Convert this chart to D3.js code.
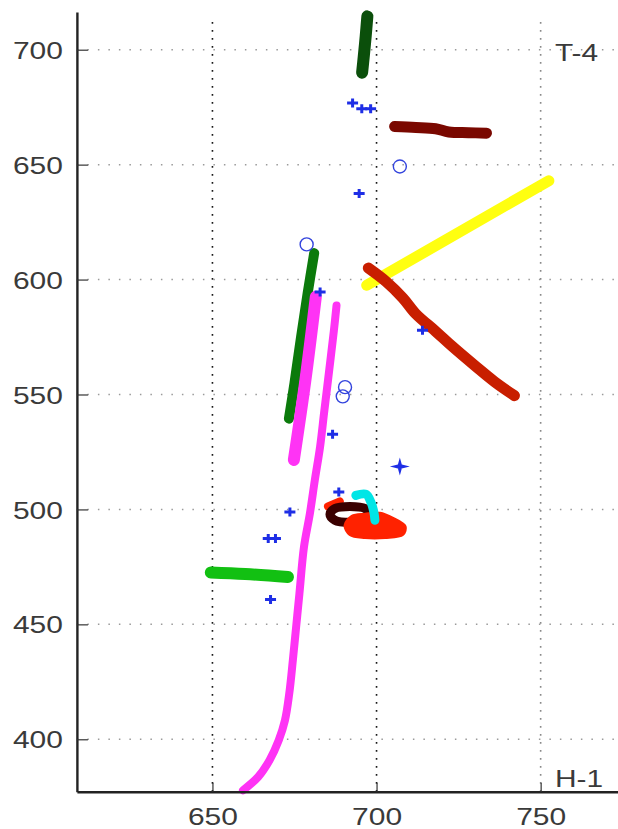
<!DOCTYPE html>
<html>
<head>
<meta charset="utf-8">
<script src="https://cdn.jsdelivr.net/npm/d3@7"></script>
<style>
  html, body { margin: 0; padding: 0; background: #fff; overflow: hidden; }
  text { font-family: "Liberation Sans", Arial, sans-serif; }
</style>
</head>
<body>
<div id="chart"></div>
<script>
// tick values
var xTicks = [650, 700, 750];
var yTicks = [400, 450, 500, 550, 600, 650, 700];
var cornerLabels = ["T-4", "H-1"];

// tracks, [x, y] pairs
var darkGreenTrack = [[697.2, 714.5], [696.7, 706], [696.1, 697], [695.6, 690]];
var maroonTrack = [[705.5, 666.6], [712, 666.2], [718, 665.6], [722, 664.2], [728, 663.9], [733.5, 663.7]];
var greenTrack = [[681, 611.5], [679, 594], [677, 575], [675, 555], [673.3, 539.5]];
var magentaShortTrack = [[681.5, 592.5], [678.3, 556], [674.8, 521.5]];
var lightGreenTrack = [[649.5, 472.6], [660, 471.9], [673, 470.6]];
var magentaLongTrack = [[687.8, 588.7], [687, 577.8], [685.2, 556.1], [684, 541.8], [682.8, 527.3],
  [681.2, 512.8], [679.7, 498.3], [677.9, 483.8], [676.5, 463.4], [675.5, 448.9], [674.5, 434.4],
  [673.4, 419.9], [672.1, 408.3], [670.2, 399.6], [667.4, 390.9], [663.9, 383.6], [659.3, 377.8]];
var redTrack = [[697.5, 605], [703, 599], [708, 592], [712, 585], [718, 577.5], [723, 571],
  [730, 562.5], [736, 555.5], [742, 549.5]];
var yellowTrack = [[697, 597.5], [752.5, 643]];

// small cluster near (695, 497)
var redSpur = [[685.2, 501.3], [688.8, 503.5]];
var brownLoop = [[685.8, 497.9], [687.3, 500.4], [691.9, 501.3], [696.5, 500.4], [698, 497.9],
  [696.5, 495.3], [691.9, 494.4], [687.3, 495.3]];
var redBlob = [[690.4, 493.1], [692.5, 497], [696.5, 497.9], [701, 498.3], [705, 496.1],
  [708.7, 492.6], [708, 489.1], [702.6, 487.8], [696.5, 487.8], [691.9, 489.1]];
var cyanTrack = [[693.7, 506.1], [696.8, 506.6], [698.3, 503.1], [699.2, 498.7], [699.5, 495.3]];

// blue markers
var plusMarks = [[692.7, 676.8], [695.5, 674.3], [698.2, 674.3], [694.7, 637.4], [682.8, 594.6],
  [714, 578], [686.6, 532.7], [688.5, 507.6], [673.6, 498.9], [667, 487.4], [669.2, 487.4], [667.7, 460.8]];
var bigPlusMarks = [[707.1, 518.7]];
var circleMarks = [[707.1, 649.2], [678.7, 615.3], [690.4, 553.2], [689.7, 549.2]];

var W = 618, H = 829;

var svg = d3.select("#chart").append("svg")
  .attr("width", W)
  .attr("height", H);

var x = d3.scaleLinear().domain([608.7, 774.3]).range([76.9, 620.4]);
var y = d3.scaleLinear().domain([377.2, 716.4]).range([791.7, 12]);

// grid
var grid = svg.append("g");
grid.selectAll(".hgrid")
  .data(yTicks)
  .enter().append("line")
  .attr("x1", x.range()[0]).attr("x2", W)
  .attr("y1", function(d) { return y(d); })
  .attr("y2", function(d) { return y(d); })
  .attr("stroke", "#9a9a9a")
  .attr("stroke-width", 1.5)
  .attr("stroke-dasharray", "1.5,9");

grid.selectAll(".vgrid")
  .data(xTicks)
  .enter().append("line")
  .attr("x1", function(d) { return x(d); })
  .attr("x2", function(d) { return x(d); })
  .attr("y1", y.range()[0]).attr("y2", y.range()[1] + 4)
  .attr("stroke", function(d) { return d < 750 ? "#1a1a1a" : "#8a8a8a"; })
  .attr("stroke-width", 1.6)
  .attr("stroke-dasharray", "1.6,6.4");

var line = d3.line()
  .x(function(d) { return x(d[0]); })
  .y(function(d) { return y(d[1]); })
  .curve(d3.curveCatmullRom);

function track(data, color, width) {
  svg.append("path")
    .datum(data)
    .attr("d", line)
    .attr("fill", "none")
    .attr("stroke", color)
    .attr("stroke-width", width)
    .attr("stroke-linecap", "round")
    .attr("stroke-linejoin", "round");
}

track(darkGreenTrack, "#0b4f0b", 12);
track(maroonTrack, "#7a0800", 11);
track(greenTrack, "#0b7a0b", 10);
track(magentaShortTrack, "#ff33f5", 12);
track(lightGreenTrack, "#12c012", 12);
track(magentaLongTrack, "#ff33f5", 8);
track(yellowTrack, "#ffff10", 11);
track(redTrack, "#c81e00", 11);

// cluster
var loopLine = d3.line()
  .x(function(d) { return x(d[0]); })
  .y(function(d) { return y(d[1]); })
  .curve(d3.curveCatmullRomClosed);

track(redSpur, "#ff2200", 8);
svg.append("path").datum(brownLoop)
  .attr("d", loopLine).attr("fill", "none")
  .attr("stroke", "#3a0000").attr("stroke-width", 9);
svg.append("path").datum(redBlob)
  .attr("d", loopLine).attr("fill", "#ff2200")
  .attr("stroke", "#ff2200").attr("stroke-width", 3)
  .attr("stroke-linejoin", "round");
track(cyanTrack, "#00e6e6", 9);

// blue markers
svg.selectAll(".plus")
  .data(plusMarks)
  .enter().append("path")
  .attr("d", function(d) {
    var cx = x(d[0]), cy = y(d[1]);
    return "M" + (cx - 5.5) + "," + cy + "h11M" + cx + "," + (cy - 4.5) + "v9";
  })
  .attr("stroke", "#1e2ee6")
  .attr("stroke-width", 3)
  .attr("fill", "none");

svg.selectAll(".bigplus")
  .data(bigPlusMarks)
  .enter().append("path")
  .attr("d", function(d) {
    var cx = x(d[0]), cy = y(d[1]);
    return "M" + (cx - 10) + "," + cy + "L" + cx + "," + (cy - 2.5) + "L" + (cx + 10) + "," + cy +
      "L" + cx + "," + (cy + 2.5) + "Z" +
      "M" + cx + "," + (cy - 9) + "L" + (cx + 2.5) + "," + cy + "L" + cx + "," + (cy + 9) +
      "L" + (cx - 2.5) + "," + cy + "Z";
  })
  .attr("fill", "#1e2ee6");

svg.selectAll(".circ")
  .data(circleMarks)
  .enter().append("circle")
  .attr("cx", function(d) { return x(d[0]); })
  .attr("cy", function(d) { return y(d[1]); })
  .attr("r", 6.5)
  .attr("fill", "none")
  .attr("stroke", "#3344dd")
  .attr("stroke-width", 1.4);

// axes
var yAxis = d3.axisLeft(y)
  .tickValues(yTicks)
  .tickFormat(d3.format("d"))
  .tickSize(-11)
  .tickSizeOuter(0)
  .tickPadding(14);

var xAxis = d3.axisBottom(x)
  .tickValues(xTicks)
  .tickFormat(d3.format("d"))
  .tickSize(-9)
  .tickSizeOuter(0)
  .tickPadding(16);

var gy = svg.append("g")
  .attr("transform", "translate(" + x.range()[0] + ",0)")
  .call(yAxis);
var gx = svg.append("g")
  .attr("transform", "translate(0," + y.range()[0] + ")")
  .call(xAxis);

[gx, gy].forEach(function(g) {
  g.select(".domain").attr("stroke", "#222").attr("stroke-width", 2.4);
  g.selectAll(".tick line").attr("stroke", "#333").attr("stroke-width", 1.2);
  g.selectAll(".tick text")
    .attr("font-size", 24)
    .attr("fill", "#3a3a3a")
    .attr("font-family", "'Liberation Sans', Arial, sans-serif")
    .attr("textLength", 50)
    .attr("lengthAdjust", "spacingAndGlyphs");
});
gy.selectAll(".tick text").attr("dy", "0.36em");

// corner labels
svg.selectAll(".corner")
  .data(cornerLabels)
  .enter().append("text")
  .attr("transform", function(d, i) {
    return "translate(555," + (i === 0 ? 61 : 787) + ") scale(1.3,1)";
  })
  .attr("font-size", 23)
  .attr("fill", "#3a3a3a")
  .text(function(d) { return d; });
</script>
</body>
</html>
